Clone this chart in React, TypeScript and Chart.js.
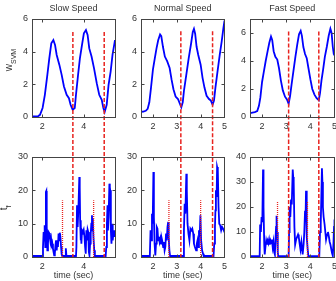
import React, { useEffect, useRef } from 'react';
import { Chart, registerables } from 'chart.js';

Chart.register(...registerables);

const FONT = '"Liberation Sans", Arial, Helvetica, sans-serif';
const TEXT = '#333333';
const AXIS = '#444444';
const BLUE = '#0000ff';
const RED = '#e8231f';

// ---- titles and labels
const speedTitles = ['Slow Speed', 'Normal Speed', 'Fast Speed'];
const xAxisLabel = 'time (sec)';

// ---- axis ranges and tick values per column
const timeMin = 1.5;
const timeMax = [5.5, 5, 5];
const timeTicks = [[2, 4], [2, 3, 4, 5], [2, 3, 4, 5]];
const wMax = [6, 6, 7];
const wTicks = [[0, 2, 4, 6], [0, 2, 4, 6], [0, 2, 4, 6]];
const tauMax = [30, 30, 40];
const tauTicks = [[0, 10, 20, 30], [0, 10, 20, 30], [0, 10, 20, 30, 40]];

// ---- step events (dashed, spanning both rows) and dotted markers
const stepTimes = [[3.47, 4.98], [3.17, 4.5], [3.1, 4.35]];
const stepTop = [5.2, 5.25, 6.1];
const markTimes = [[2.97, 4.47], [2.67, 4.0], [2.64, 3.88]];
const markTop = [17, 17, 22];

// ---- w_SVM, slow speed
const slowWTime = [1.5, 1.6, 1.7, 1.8, 1.885, 2.01, 2.12, 2.24, 2.335, 2.43, 2.53, 2.61, 2.69, 2.82, 2.93, 3.04, 3.17, 3.28, 3.36, 3.46, 3.56, 3.62, 3.72, 3.81, 3.91, 4.0, 4.1, 4.18, 4.26, 4.37, 4.49, 4.62, 4.74, 4.86, 4.94, 5.0, 5.1, 5.19, 5.29, 5.38, 5.5];
const slowW = [0.04, 0.04, 0.04, 0.06, 0.13, 0.55, 1.36, 2.58, 3.6, 4.51, 4.71, 4.41, 3.8, 3.19, 2.58, 1.87, 1.36, 1.15, 0.75, 0.44, 0.55, 1.36, 2.58, 3.6, 4.41, 5.12, 5.32, 5.02, 4.2, 3.7, 2.98, 2.07, 1.36, 1.05, 0.55, 0.3, 0.75, 1.97, 2.78, 3.8, 4.71];

// ---- w_SVM, normal speed
const normalWTime = [1.5, 1.6, 1.7, 1.78, 1.85, 1.92, 2.0, 2.08, 2.15, 2.22, 2.3, 2.35, 2.42, 2.5, 2.6, 2.7, 2.78, 2.86, 2.95, 3.05, 3.12, 3.19, 3.25, 3.3, 3.4, 3.5, 3.6, 3.67, 3.72, 3.77, 3.83, 3.9, 4.0, 4.08, 4.16, 4.25, 4.35, 4.43, 4.5, 4.56, 4.62, 4.7, 4.8, 4.88, 4.95, 5.0];
const normalW = [0.32, 0.33, 0.38, 0.5, 0.9, 1.8, 2.9, 3.6, 4.2, 4.7, 5.05, 4.95, 4.3, 3.7, 3.4, 3.0, 2.3, 1.7, 1.25, 1.1, 0.85, 0.6, 0.9, 1.6, 2.6, 3.6, 4.5, 5.2, 5.4, 5.1, 4.3, 3.8, 3.2, 2.4, 1.8, 1.3, 1.1, 1.0, 0.75, 1.0, 1.8, 2.7, 3.8, 4.6, 5.4, 5.9];

// ---- w_SVM, fast speed
const fastWTime = [1.5, 1.6, 1.7, 1.8, 1.87, 1.93, 2.0, 2.07, 2.15, 2.23, 2.3, 2.37, 2.42, 2.48, 2.55, 2.63, 2.7, 2.78, 2.86, 2.95, 3.03, 3.1, 3.16, 3.22, 3.3, 3.38, 3.46, 3.53, 3.6, 3.65, 3.71, 3.78, 3.85, 3.92, 4.0, 4.08, 4.17, 4.26, 4.35, 4.4, 4.46, 4.53, 4.6, 4.68, 4.76, 4.83, 4.88, 4.93, 4.97, 5.0];
const fastW = [0.28, 0.32, 0.35, 0.42, 0.8, 1.4, 2.5, 3.2, 4.0, 4.7, 5.3, 5.75, 5.5, 4.7, 4.3, 4.1, 3.5, 2.6, 1.9, 1.45, 1.25, 0.95, 1.5, 2.3, 3.3, 4.3, 5.2, 5.9, 6.15, 5.8, 5.0, 4.5, 4.2, 3.5, 2.7, 2.0, 1.6, 1.35, 1.2, 1.7, 2.6, 3.4, 4.3, 5.0, 5.8, 6.3, 6.0, 5.0, 4.5, 4.4];

// ---- t_f, slow speed
const slowTauTime = [1.5, 1.8, 2.0, 2.03, 2.06, 2.09, 2.11, 2.14, 2.17, 2.19, 2.21, 2.24, 2.27, 2.3, 2.33, 2.36, 2.39, 2.42, 2.45, 2.48, 2.51, 2.54, 2.57, 2.6, 2.63, 2.66, 2.69, 2.72, 2.75, 2.78, 2.81, 2.84, 2.87, 2.9, 2.93, 2.96, 3.1, 3.13, 3.16, 3.62, 3.64, 3.67, 3.7, 3.74, 3.78, 3.8, 3.82, 3.84, 3.86, 3.88, 3.91, 3.95, 3.99, 4.03, 4.06, 4.09, 4.12, 4.15, 4.18, 4.21, 4.24, 4.27, 4.3, 4.33, 4.36, 4.39, 4.41, 4.43, 4.46, 4.5, 4.53, 5.05, 5.08, 5.11, 5.14, 5.16, 5.19, 5.23, 5.25, 5.27, 5.3, 5.33, 5.36, 5.39, 5.42, 5.45, 5.48, 5.5];
const slowTau = [0.3, 0.3, 0.3, 3, 7.5, 5, 9.5, 3, 19.5, 19.8, 9, 2, 4, 7.5, 7.2, 6, 4.5, 5.5, 3.5, 4, 2.5, 1.5, 0.5, 1, 3.5, 5, 2, 4.5, 3, 7, 5, 7.3, 6, 3, 0.8, 0.3, 0.3, 2.6, 0.3, 0.3, 3, 15.5, 9, 15, 24, 21, 11, 5, 10, 4, 8, 7.5, 8.2, 6, 3, 1, 8, 5, 8.2, 7.5, 1.5, 0.5, 4, 7, 10, 12.5, 8, 11.5, 6, 2, 0.3, 0.3, 3, 10, 15.5, 8, 12, 22, 21, 20, 8, 4, 10, 5, 7, 8, 6, 8];

// ---- t_f, normal speed
const normalTauTime = [1.5, 1.87, 1.9, 1.93, 1.96, 1.99, 2.02, 2.04, 2.07, 2.1, 2.13, 2.16, 2.19, 2.22, 2.25, 2.28, 2.31, 2.34, 2.37, 2.4, 2.43, 2.46, 2.49, 2.52, 2.55, 2.58, 2.61, 2.64, 2.66, 2.69, 2.72, 3.27, 3.3, 3.33, 3.36, 3.4, 3.42, 3.45, 3.49, 3.53, 3.57, 3.61, 3.65, 3.69, 3.72, 3.76, 3.81, 3.84, 3.87, 3.9, 3.93, 3.96, 3.99, 4.02, 4.06, 4.1, 4.13, 4.54, 4.57, 4.6, 4.62, 4.64, 4.67, 4.69, 4.72, 4.75, 4.78, 4.82, 4.86, 4.9, 4.94, 4.97, 5.0];
const normalTau = [0.3, 0.3, 8, 5, 13, 10, 25.5, 12, 4, 0.5, 4, 9, 8.5, 5, 6, 4.5, 5.5, 4, 5.5, 4.5, 3, 4.5, 2, 3, 7, 5, 9, 10.5, 6, 2, 0.3, 0.3, 8, 16, 13, 25, 20, 10, 7, 5, 8.5, 8, 8.5, 7, 4, 3, 2, 4, 5, 3, 8, 6, 12.5, 5, 2, 1, 0.3, 0.3, 4, 9, 14, 20, 18, 27, 26, 15, 10, 9.5, 8, 9, 8.5, 8, 8];

// ---- t_f, fast speed
const fastTauTime = [1.5, 1.9, 1.92, 1.95, 1.98, 2.01, 2.04, 2.06, 2.09, 2.11, 2.14, 2.17, 2.2, 2.23, 2.26, 2.29, 2.32, 2.35, 2.38, 2.41, 2.44, 2.47, 2.5, 2.53, 2.56, 2.58, 2.6, 2.62, 2.65, 2.67, 3.1, 3.12, 3.14, 3.17, 3.2, 3.23, 3.27, 3.29, 3.31, 3.34, 3.37, 3.41, 3.45, 3.49, 3.52, 3.56, 3.59, 3.63, 3.68, 3.72, 3.75, 3.78, 3.8, 3.82, 3.84, 3.86, 3.89, 3.92, 4.37, 4.4, 4.42, 4.44, 4.48, 4.5, 4.52, 4.55, 4.59, 4.62, 4.65, 4.69, 4.73, 4.77, 4.8, 4.83, 4.87, 4.9, 4.93, 4.96, 4.98, 5.0];
const fastTau = [0.3, 0.3, 13, 10, 16, 14, 35, 20, 5, 1, 4, 6.5, 5, 6.5, 5.5, 7, 5, 6.5, 5.5, 7, 4, 6, 2, 1, 8, 12, 16.5, 10, 2, 0.3, 0.3, 10, 20, 16, 23, 21, 35, 32, 30, 12, 5, 7, 8, 9, 8, 5, 3, 6, 1, 5, 10, 18.5, 15, 26.5, 20, 8, 3, 0.3, 0.3, 10, 16, 13, 35.5, 30, 20, 16, 13, 10, 7, 9, 10, 8, 6, 5, 3, 1.5, 0.5, 6, 12, 15];

const wTimes = [slowWTime, normalWTime, fastWTime];
const wValues = [slowW, normalW, fastW];
const tauTimes = [slowTauTime, normalTauTime, fastTauTime];
const tauValues = [slowTau, normalTau, fastTau];

// ---- panel geometry (page pixels)
const plotLeft = [32, 141, 250];
const plotRight = [115, 225, 335];
const Y_AXIS_W = 32;
const PAD_R = 6;
const rows = [
  { top: 0, height: 140, padTop: 19, xAxisH: 23 },
  { top: 140, height: 141, padTop: 17, xAxisH: 24 },
];

function crisp(v: number) {
  return Math.round(v) + 0.5;
}

function drawSubscripted(
  ctx: CanvasRenderingContext2D,
  main: string,
  sub: string,
  baseX: number,
  cy: number,
  mainSize: number,
  subSize: number,
  subShift: number
) {
  ctx.save();
  ctx.translate(baseX, cy);
  ctx.rotate(-Math.PI / 2);
  ctx.fillStyle = TEXT;
  ctx.textAlign = 'left';
  ctx.textBaseline = 'alphabetic';
  ctx.font = `${mainSize}px ${FONT}`;
  const mw = ctx.measureText(main).width;
  ctx.font = `${subSize}px ${FONT}`;
  const sw = ctx.measureText(sub).width;
  const start = -(mw + sw) / 2;
  ctx.font = `${mainSize}px ${FONT}`;
  ctx.fillText(main, start, 0);
  ctx.font = `${subSize}px ${FONT}`;
  ctx.fillText(sub, start + mw, subShift);
  ctx.restore();
}

function buildConfig(col: number, row: number): any {
  const isTop = row === 0;
  const xs = isTop ? wTimes[col] : tauTimes[col];
  const ys = isTop ? wValues[col] : tauValues[col];
  const yMax = isTop ? wMax[col] : tauMax[col];
  const yTickVals = isTop ? wTicks[col] : tauTicks[col];
  const xTickVals = timeTicks[col];
  const r = rows[row];

  const datasets: any[] = [
    {
      data: xs.map((x, i) => ({ x, y: ys[i] })),
      borderColor: BLUE,
      borderWidth: 1.8,
      pointRadius: 0,
      tension: 0,
      fill: false,
      order: 2,
    },
  ];
  if (!isTop) {
    markTimes[col].forEach((x) => {
      datasets.push({
        data: [
          { x, y: 0 },
          { x, y: markTop[col] },
        ],
        borderColor: RED,
        borderWidth: 1.3,
        borderDash: [1, 1],
        pointRadius: 0,
        fill: false,
        order: 1,
      });
    });
  }

  const tickFont = { family: FONT, size: 9 };

  const framePlugin = {
    id: 'frame' + col + row,
    afterDatasetsDraw(chart: any) {
      const { ctx } = chart;
      const xs = chart.scales.x;
      const yS = chart.scales.y;
      ctx.save();
      ctx.strokeStyle = RED;
      ctx.lineWidth = 1.5;
      ctx.setLineDash([4, 2]);
      stepTimes[col].forEach((t) => {
        const px = xs.getPixelForValue(t);
        const y0 = isTop ? yS.getPixelForValue(stepTop[col]) : 0;
        const y1 = isTop ? chart.height : yS.getPixelForValue(0);
        ctx.beginPath();
        ctx.moveTo(px, y0);
        ctx.lineTo(px, y1);
        ctx.stroke();
      });
      ctx.restore();
    },
    afterDraw(chart: any) {
      const { ctx, chartArea } = chart;
      const xs = chart.scales.x;
      const yS = chart.scales.y;
      const L = crisp(chartArea.left);
      const R = crisp(chartArea.right);
      const T = crisp(chartArea.top);
      const B = crisp(chartArea.bottom);
      ctx.save();
      ctx.strokeStyle = AXIS;
      ctx.lineWidth = 1;
      ctx.strokeRect(L, T, R - L, B - T);
      const tl = 3;
      ctx.beginPath();
      xTickVals.forEach((v) => {
        const px = crisp(xs.getPixelForValue(v));
        ctx.moveTo(px, B);
        ctx.lineTo(px, B - tl);
        ctx.moveTo(px, T);
        ctx.lineTo(px, T + tl);
      });
      yTickVals.forEach((v) => {
        const py = crisp(yS.getPixelForValue(v));
        ctx.moveTo(L, py);
        ctx.lineTo(L + tl, py);
        ctx.moveTo(R, py);
        ctx.lineTo(R - tl, py);
      });
      ctx.stroke();

      const cx = (chartArea.left + chartArea.right) / 2;
      ctx.fillStyle = TEXT;
      ctx.textAlign = 'center';
      ctx.textBaseline = 'middle';
      ctx.font = `9px ${FONT}`;
      if (isTop) {
        ctx.fillText(speedTitles[col], cx, 9);
      } else {
        ctx.fillText(xAxisLabel, cx, 136);
      }
      ctx.restore();

      if (col === 0) {
        if (isTop) drawSubscripted(ctx, 'w', 'SVM', 11.7, 60, 10, 7, 4.5);
        else drawSubscripted(ctx, 't', 'f', 7, 68, 10, 7, 4);
      }
    },
  };

  return {
    type: 'line',
    data: { datasets },
    options: {
      responsive: false,
      animation: false,
      events: [],
      layout: { padding: { top: r.padTop, right: PAD_R, left: 0, bottom: 0 } },
      plugins: { legend: { display: false }, tooltip: { enabled: false }, title: { display: false } },
      scales: {
        x: {
          type: 'linear',
          min: timeMin,
          max: timeMax[col],
          afterBuildTicks: (s: any) => {
            s.ticks = xTickVals.map((v) => ({ value: v }));
          },
          afterFit: (s: any) => {
            s.height = r.xAxisH;
          },
          grid: { display: false, drawTicks: false },
          border: { display: false },
          ticks: { font: tickFont, color: TEXT, padding: 4, maxRotation: 0, autoSkip: false },
        },
        y: {
          type: 'linear',
          min: 0,
          max: yMax,
          afterBuildTicks: (s: any) => {
            s.ticks = yTickVals.map((v) => ({ value: v }));
          },
          afterFit: (s: any) => {
            s.width = Y_AXIS_W;
          },
          grid: { display: false, drawTicks: false },
          border: { display: false },
          ticks: { font: tickFont, color: TEXT, padding: 4, autoSkip: false },
        },
      },
    },
    plugins: [framePlugin],
  };
}

function SubPlot({ col, row }: { col: number; row: number }) {
  const ref = useRef<HTMLCanvasElement>(null);
  const r = rows[row];
  const left = plotLeft[col] - Y_AXIS_W;
  const width = plotRight[col] - plotLeft[col] + Y_AXIS_W + PAD_R;

  useEffect(() => {
    if (!ref.current) return;
    const chart = new Chart(ref.current, buildConfig(col, row));
    return () => chart.destroy();
  }, [col, row]);

  return (
    <canvas
      ref={ref}
      width={width}
      height={r.height}
      style={{ position: 'absolute', left, top: r.top, width, height: r.height }}
    />
  );
}

export default function App() {
  const cells: React.ReactNode[] = [];
  for (let row = 0; row < 2; row++) {
    for (let col = 0; col < 3; col++) {
      cells.push(<SubPlot key={`${row}-${col}`} col={col} row={row} />);
    }
  }
  return (
    <div
      style={{
        position: 'absolute',
        left: 0,
        top: 0,
        width: 336,
        height: 281,
        overflow: 'hidden',
        background: '#ffffff',
      }}
    >
      {cells}
    </div>
  );
}
